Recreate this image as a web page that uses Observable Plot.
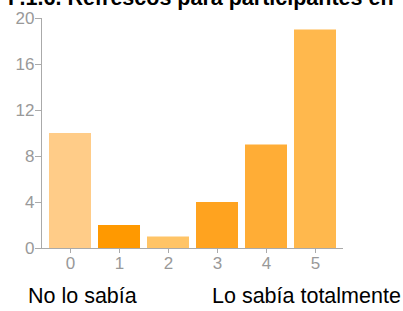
<!DOCTYPE html>
<html><head><meta charset="utf-8">
<script src="https://cdn.jsdelivr.net/npm/d3@7"></script>
<script src="https://cdn.jsdelivr.net/npm/@observablehq/plot@0.6"></script>
<style>
body{margin:0;background:#fff;}
#wrap{position:relative;width:403px;height:311px;overflow:hidden;font-family:"Liberation Sans",Arial,sans-serif;}
#title{position:absolute;left:8px;top:-14px;font-size:21.5px;font-weight:bold;white-space:nowrap;color:#000;line-height:25px;}
.lab{position:absolute;top:284px;font-size:21.5px;color:#000;white-space:nowrap;line-height:25px;}
#chart{position:absolute;left:0;top:0;}
</style></head>
<body><div id="wrap">
<div id="chart"></div>
<div id="title">P.1.6. Refrescos para participantes en</div>
<div class="lab" style="left:28px">No lo sabía</div>
<div class="lab" style="left:212px">Lo sabía totalmente</div>
</div>
<script>
const categories = ["0","1","2","3","4","5"];
const values = [10, 2, 1, 4, 9, 19];
const colors = ["#FFCC88","#FF9900","#FFC466","#FFA31F","#FFAD36","#FFB84D"];
const yTicks = [0,4,8,12,16,20];
const data = categories.map((c,i)=>({c, v: values[i], col: colors[i]}));
const chart = Plot.plot({
  width: 403, height: 270,
  marginLeft: 41, marginRight: 60, marginTop: 18, marginBottom: 22,
  style: {fontFamily: '"Liberation Sans",Arial,sans-serif', fontSize: "17px", color: "#999", background: "transparent", overflow: "visible"},
  x: {domain: categories, padding: 0.15, label: null},
  y: {domain: [0,20], ticks: yTicks, label: null},
  marks: [
    Plot.barY(data, {x: "c", y: "v", fill: "col"}),
    Plot.ruleY([0], {stroke: "#aaa"}),
    Plot.frame({anchor: "left", stroke: "#aaa"}),
    Plot.axisY({ticks: yTicks, tickSize: 6, tickPadding: 1, stroke: "#aaa", fill: "#999", fontSize: 17}),
    Plot.axisX({tickSize: 5, tickPadding: 3, stroke: "#aaa", fill: "#999", fontSize: 17})
  ]
});
document.getElementById("chart").appendChild(chart);
</script>
</body></html>
